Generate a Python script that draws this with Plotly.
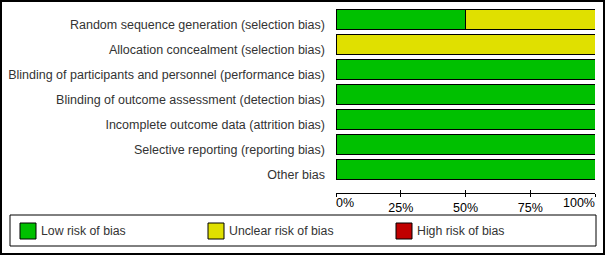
import plotly.graph_objects as go

# Risk of bias summary (percentage of studies per judgement)
domains = [
    "Random sequence generation (selection bias)",
    "Allocation concealment (selection bias)",
    "Blinding of participants and personnel (performance bias)",
    "Blinding of outcome assessment (detection bias)",
    "Incomplete outcome data (attrition bias)",
    "Selective reporting (reporting bias)",
    "Other bias",
]
low_risk = [50, 0, 100, 100, 100, 100, 100]
unclear_risk = [50, 100, 0, 0, 0, 0, 0]
high_risk = [0, 0, 0, 0, 0, 0, 0]

series_names = ["Low risk of bias", "Unclear risk of bias", "High risk of bias"]
series_colors = ["#00C000", "#E0E000", "#C00000"]
tick_vals = [0, 25, 50, 75, 100]
tick_text = ["0%", "25%", "50%", "75%", "100%"]

W, H = 606, 256
FONT = "Liberation Sans, Arial, sans-serif"


def px(x):
    return x / W


def py(y):
    return 1 - y / H


fig = go.Figure()
rows = list(range(len(domains)))
for name, color, vals in zip(series_names, series_colors, [low_risk, unclear_risk, high_risk]):
    fig.add_trace(go.Bar(
        x=vals, y=rows, orientation="h", name=name,
        marker=dict(color=color, line=dict(color="black", width=1)),
        showlegend=False, hoverinfo="x+name",
    ))

tick_font = dict(family=FONT, size=12.5, color="black")
axis_common = dict(range=[0, 100], domain=[px(336), px(595)], showgrid=False,
                   zeroline=False, showline=True, linecolor="black", linewidth=1,
                   tickcolor="black", tickwidth=1, tickvals=tick_vals, tickfont=tick_font)

fig.update_layout(
    width=W, height=H,
    margin=dict(l=0, r=0, t=0, b=0),
    paper_bgcolor="white", plot_bgcolor="white",
    barmode="stack", bargap=0.22,
    font=dict(family=FONT, size=12, color="#333333"),
    xaxis=dict(**axis_common, ticks="outside", ticklen=3,
               ticktext=["", tick_text[1], tick_text[2], tick_text[3], ""]),
    xaxis2=dict(**axis_common, ticks="inside", ticklen=3, overlaying="x",
                anchor="y", side="bottom", showticklabels=False),
    xaxis3=dict(range=[0, 100], domain=[px(336), px(595)], overlaying="x", anchor="y",
                side="bottom", showline=False, showgrid=False, zeroline=False,
                tickvals=[0], ticktext=[tick_text[0]], ticks="", ticklen=3,
                ticklabelposition="outside right", tickfont=tick_font),
    xaxis4=dict(range=[0, 100], domain=[px(336), px(595)], overlaying="x", anchor="y",
                side="bottom", showline=False, showgrid=False, zeroline=False,
                tickvals=[100], ticktext=[tick_text[4]], ticks="", ticklen=3,
                ticklabelposition="outside left", tickfont=tick_font),
    yaxis=dict(range=[(193 - 19.5) / 25, -0.5], domain=[py(193), py(7)],
               tickvals=rows, ticktext=domains, showgrid=False, zeroline=False,
               showline=False, ticks="", ticklabelstandoff=10, ticklabelshift=-5,
               tickfont=dict(family=FONT, size=12.5, color="#333333")),
)

# invisible traces so the extra axes get drawn
for ax in ["x2", "x3", "x4"]:
    fig.add_trace(go.Scatter(x=[None], y=[None], xaxis=ax, yaxis="y",
                             showlegend=False, hoverinfo="skip"))

shapes = [
    # outer frame
    dict(type="rect", xref="paper", yref="paper", x0=px(1), x1=px(604),
         y0=py(254), y1=py(1), line=dict(color="black", width=2)),
    # legend frame
    dict(type="rect", xref="paper", yref="paper", x0=px(10), x1=px(596),
         y0=py(246), y1=py(215), line=dict(color="black", width=1)),
]
annotations = []
for i, (name, color) in enumerate(zip(series_names, series_colors)):
    x0 = 20 + 188 * i
    shapes.append(dict(type="rect", xref="paper", yref="paper",
                       x0=px(x0), x1=px(x0 + 16), y0=py(239), y1=py(223),
                       fillcolor=color, line=dict(color="black", width=1)))
    annotations.append(dict(text=name, xref="paper", yref="paper",
                            x=px(x0 + 19), y=py(231), xanchor="left", yanchor="middle",
                            showarrow=False, font=dict(family=FONT, size=12.3, color="#333333")))

fig.update_layout(shapes=shapes, annotations=annotations)

# drop the default page margin so the figure sits at the window origin
fig.write_html("out.html", config={"displayModeBar": False},
               post_script="document.body.style.margin='0';")
